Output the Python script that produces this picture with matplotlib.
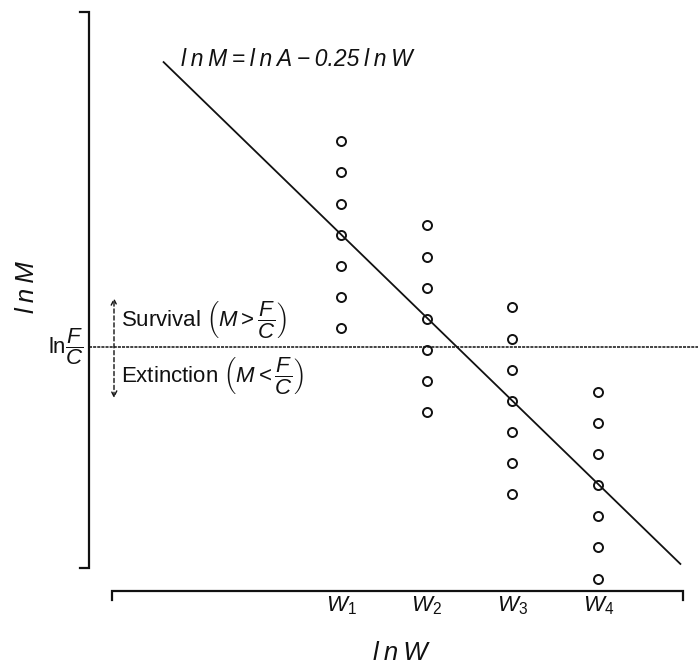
import matplotlib
matplotlib.use("Agg")
import matplotlib.pyplot as plt
from matplotlib.transforms import blended_transform_factory

plt.rcParams["font.family"] = ["Liberation Sans", "DejaVu Sans"]
plt.rcParams["mathtext.fontset"] = "custom"
plt.rcParams["mathtext.rm"] = "Liberation Sans"
plt.rcParams["mathtext.it"] = "Liberation Sans:italic"

# body-size classes on the lnW axis
w_pos = [1, 2, 3, 4]
w_labels = [r"$W_1$", r"$W_2$", r"$W_3$", r"$W_4$"]

# observed lnM values for each body-size class (lnF/C = 0)
lnM_w1 = [6.6, 5.6, 4.6, 3.6, 2.6, 1.6, 0.6]
lnM_w2 = [3.9, 2.9, 1.9, 0.9, -0.1, -1.1, -2.1]
lnM_w3 = [1.27, 0.27, -0.73, -1.73, -2.73, -3.73, -4.73]
lnM_w4 = [-1.43, -2.43, -3.43, -4.43, -5.43, -6.43, -7.43]

# lnM = lnA - 0.25 lnW, end points of the drawn line
line_w = [-1.07, 4.96]
line_lnM = [9.14, -6.96]

threshold = 0.0   # ln(F/C)

W, H = 698, 664
fig = plt.figure(figsize=(W / 100, H / 100), dpi=100)

# pixel layer for the frame and the free text
axp = fig.add_axes([0, 0, 1, 1])
axp.set_xlim(0, W)
axp.set_ylim(H, 0)
axp.axis("off")

# data layer
ax = fig.add_axes([0, 0, 1, 1])
ax.patch.set_alpha(0)
ax.set_xlim(1 - 341 / 85.7, 1 + (W - 341) / 85.7)
ax.set_ylim(-(H - 347) / 31.17, 347 / 31.17)
ax.axis("off")

k = "#111111"
# axis brackets
axp.plot([80, 89, 89, 80], [12, 12, 568, 568], color=k, lw=1.6,
         solid_joinstyle="miter")
axp.plot([112, 112, 683, 683], [600, 591, 591, 600], color=k, lw=1.6,
         solid_joinstyle="miter")

ax.axhline(threshold, xmin=89 / W, xmax=1, color=k, lw=1.1,
           ls=(0, (2, 0.7)))
ax.plot(line_w, line_lnM, color=k, lw=1.3)

for w, col in zip(w_pos, [lnM_w1, lnM_w2, lnM_w3, lnM_w4]):
    ax.plot([w] * len(col), col, "o", ms=6.5, mfc="none", mec=k, mew=1.4)

tr = blended_transform_factory(ax.transData, axp.transData)
for w, lab in zip(w_pos, w_labels):
    ax.text(w, 606, lab, transform=tr, ha="center", va="center",
            fontsize=16, color=k)

ts = "\u2009"
axp.text(181, 66, ts.join("lnM") + ts + "=" + ts + ts.join("lnA") + ts + "\u2212"
         + ts + "0.25" + ts + ts.join("lnW"),
         fontsize=16.5, style="italic", ha="left", va="baseline", color=k)
axp.text(27, 287, ts.join("lnM"), rotation=90, fontsize=18.5, style="italic",
         ha="center", va="center", color=k)
axp.text(400, 641, ts.join("lnW"), fontsize=18.5, style="italic",
         ha="center", va="top", color=k)

axp.text(84, 347, r"$\mathrm{ln}\dfrac{F}{C}$", fontsize=16, ha="right",
         va="center", color=k)
axp.text(121, 320, r"Survival $\left(M > \dfrac{F}{C}\right)$", fontsize=16,
         ha="left", va="center", color=k)
axp.text(121, 375, r"Extinction $\left(M < \dfrac{F}{C}\right)$", fontsize=16,
         ha="left", va="center", color=k)

axp.annotate("", xy=(114, 298), xytext=(114, 398),
             arrowprops=dict(arrowstyle="<->,head_length=0.4,head_width=0.2",
                             ls=(0, (3, 2)), lw=1.0, color=k,
                             shrinkA=0, shrinkB=0))

fig.savefig("out.png", dpi=100)
